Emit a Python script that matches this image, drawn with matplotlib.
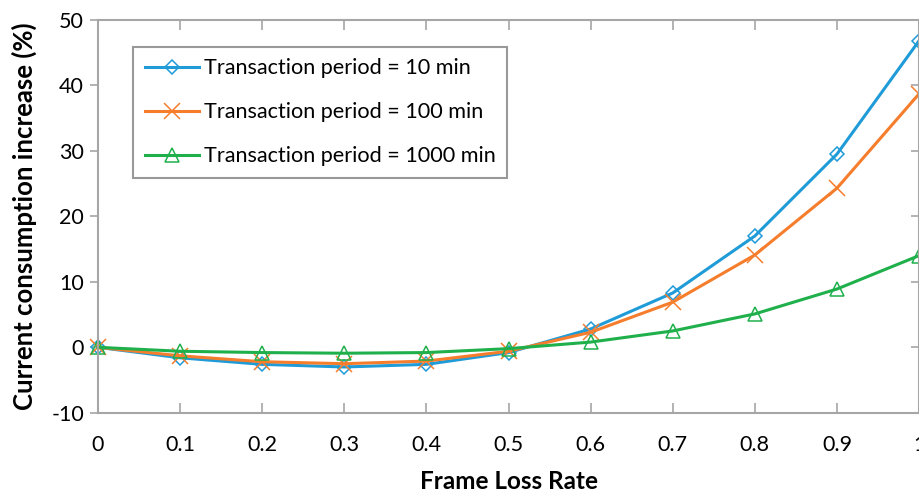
import matplotlib
matplotlib.use("Agg")
import matplotlib.pyplot as plt

plt.rcParams['font.family'] = ['Lato', 'DejaVu Sans']
plt.rcParams['axes.unicode_minus'] = False

loss_rate = [0, 0.1, 0.2, 0.3, 0.4, 0.5, 0.6, 0.7, 0.8, 0.9, 1.0]
period_10 = [0, -1.6, -2.6, -3.0, -2.6, -0.8, 2.8, 8.3, 17.0, 29.5, 46.8]
period_100 = [0, -1.3, -2.2, -2.5, -2.1, -0.6, 2.3, 6.9, 14.1, 24.3, 38.7]
period_1000 = [0, -0.6, -0.8, -0.9, -0.8, -0.2, 0.8, 2.5, 5.1, 8.9, 14.0]

labels = ['Transaction period = 10 min',
          'Transaction period = 100 min',
          'Transaction period = 1000 min']
colors = ['#1f9bd8', '#f57d2c', '#1fb04c']
markers = ['D', 'x', '^']
msizes = [7.5, 11, 10]

fig = plt.figure(figsize=(9.2, 4.95), dpi=100)
ax = fig.add_axes([0.1065, 0.166, 0.8925, 0.794])

for y, lab, c, m, ms in zip([period_10, period_100, period_1000], labels, colors, markers, msizes):
    ax.plot(loss_rate, y, color=c, lw=2.2, marker=m, ms=ms, mfc='none',
            mec=c, mew=1.1, label=lab, clip_on=False)

ax.set_xlim(0, 1)
ax.set_ylim(-10, 50)
ax.set_xticks(loss_rate)
ax.set_xticklabels(['0', '0.1', '0.2', '0.3', '0.4', '0.5', '0.6', '0.7', '0.8', '0.9', '1'])
ax.set_yticks([-10, 0, 10, 20, 30, 40, 50])

for s in ax.spines.values():
    s.set_color('#a6a6a6')
    s.set_linewidth(1.5)

ax.tick_params(axis='x', direction='in', top=True, length=7, width=1.2,
               color='#a6a6a6', labelsize=15.5, pad=16)
ax.tick_params(axis='y', direction='out', length=6, width=1.2,
               color='#a6a6a6', labelsize=15.5, pad=4)
ax.tick_params(axis='y', which='both', right=True)
# right-side ticks point inward
for t in ax.yaxis.get_major_ticks():
    t.tick2line.set_marker(matplotlib.lines.TICKLEFT)
    t.tick2line.set_markersize(6)

ax.set_xlabel('Frame Loss Rate', fontsize=17.5, fontweight='bold', labelpad=11)
ax.set_ylabel('Current consumption increase (%)', fontsize=18.5, fontweight='bold', labelpad=10)

leg = ax.legend(loc='upper left', bbox_to_anchor=(0.043, 0.932), fontsize=15.6,
                frameon=True, fancybox=False, handlelength=2.5, borderpad=0.55,
                labelspacing=1.1, handletextpad=0.2, borderaxespad=0)
leg.get_frame().set_edgecolor('#808080')
leg.get_frame().set_linewidth(1.5)

fig.savefig('out.png', dpi=100)
